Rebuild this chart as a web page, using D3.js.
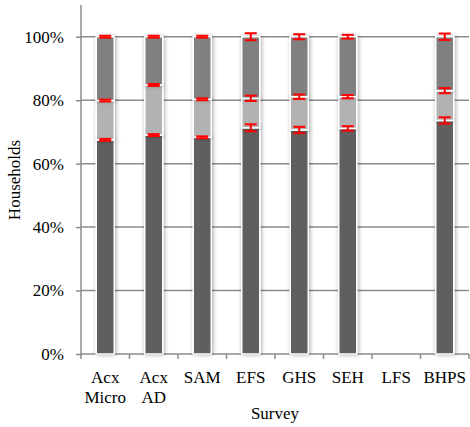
<!DOCTYPE html>
<html>
<head>
<meta charset="utf-8">
<script src="https://cdn.jsdelivr.net/npm/d3@7"></script>
<style>
	body { margin: 0; background: #fff; }
	text { font-family: "Liberation Serif", "Times New Roman", serif; fill: #000; }
</style>
</head>
<body>
<div id="chart"></div>
<script>

// survey categories (two-line labels)
const categories = ["Acx Micro", "Acx AD", "SAM", "EFS", "GHS", "SEH", "LFS", "BHPS"]
const catLines = [["Acx", "Micro"], ["Acx", "AD"], ["SAM"], ["EFS"], ["GHS"], ["SEH"], ["LFS"], ["BHPS"]]

// segment shares in %, bottom to top (null = no data)
const lowerVals  = [67.5, 69.0, 68.3, 71.3, 70.6, 71.1, null, 73.6]
const middleVals = [12.4, 15.8, 12.0,  9.3, 10.5, 10.0, null,  9.4]
const upperVals  = [20.1, 15.2, 19.7, 19.4, 18.9, 18.9, null, 17.0]

// error half-widths in % at the top of each segment
const lowerErr  = [0.3, 0.3, 0.3, 1.1, 1.0, 0.7, null, 1.0]
const middleErr = [0.3, 0.3, 0.3, 0.85, 0.7, 0.5, null, 0.8]
const upperErr  = [0.3, 0.3, 0.3, 1.1, 0.8, 0.6, null, 1.0]

const yTicks = [0, 20, 40, 60, 80, 100]

const width = 470, height = 427
const margin = {top: 5, right: 1, bottom: 73, left: 81}
const plot_w = width - margin.left - margin.right
const plot_h = height - margin.top - margin.bottom

const svg = d3.select("#chart").append("svg")
	.attr("width", width)
	.attr("height", height)

// soft shadow behind the bars
const defs = svg.append("defs")
defs.append("filter")
		.attr("id", "shadow")
		.attr("x", "-50%").attr("y", "-10%")
		.attr("width", "200%").attr("height", "120%")
	.append("feDropShadow")
		.attr("dx", 1).attr("dy", 0)
		.attr("stdDeviation", 2)
		.attr("flood-color", "#000")
		.attr("flood-opacity", 0.35)

const g = svg.append("g")
	.attr("transform", "translate(" + margin.left + "," + margin.top + ")")

const x = d3.scaleBand()
	.domain(categories)
	.range([0, plot_w])

const y = d3.scaleLinear()
	.domain([0, 110])
	.range([plot_h, 0])

// gridlines
g.append("g")
	.selectAll("line")
	.data(yTicks.slice(1))
	.enter()
	.append("line")
		.attr("x1", 0)
		.attr("x2", plot_w)
		.attr("y1", d => y(d))
		.attr("y2", d => y(d))
		.attr("stroke", "#8c8c8c")
		.attr("stroke-width", 1.5)

// y axis
const yAxis = g.append("g")
	.call(d3.axisLeft(y).tickValues(yTicks).tickSize(5).tickPadding(12).tickFormat(d => d + "%"))
yAxis.select(".domain").attr("stroke", "#8c8c8c").attr("stroke-width", 1.5)
	.attr("d", "M0," + plot_h + "V0")
yAxis.selectAll(".tick line").attr("stroke", "#8c8c8c").attr("stroke-width", 1.5)
yAxis.selectAll(".tick text")
	.style("font-family", '"Liberation Serif", serif')
	.style("font-size", "17px")
	.attr("fill", "#000")

// x axis
const xAxis = g.append("g")
	.attr("transform", "translate(0," + plot_h + ")")
xAxis.append("line")
	.attr("x1", 0).attr("x2", plot_w)
	.attr("stroke", "#8c8c8c").attr("stroke-width", 1.5)
xAxis.selectAll(".xtick")
	.data(d3.range(categories.length + 1))
	.enter()
	.append("line")
		.attr("x1", i => i * x.step())
		.attr("x2", i => i * x.step())
		.attr("y1", 0).attr("y2", 5)
		.attr("stroke", "#8c8c8c").attr("stroke-width", 1.5)

const labels = xAxis.selectAll(".xlab")
	.data(categories)
	.enter()
	.append("text")
		.attr("text-anchor", "middle")
		.attr("x", d => x(d) + x.bandwidth() / 2)
		.attr("y", 29)
		.style("font-size", "17px")
labels.each(function(d, i){
	const t = d3.select(this)
	catLines[i].forEach((ln, k) => {
		t.append("tspan")
			.attr("x", x(d) + x.bandwidth() / 2)
			.attr("dy", k === 0 ? 0 : 20)
			.text(ln)
	})
})

// axis titles
g.append("text")
	.attr("text-anchor", "middle")
	.attr("x", plot_w / 2)
	.attr("y", plot_h + 65)
	.style("font-size", "17px")
	.text("Survey")

g.append("text")
	.attr("transform", "rotate(-90)")
	.attr("text-anchor", "middle")
	.attr("x", -175)
	.attr("y", -61)
	.style("font-size", "17px")
	.text("Households")

// stacked bars
const segColors = ["#5f5f5f", "#b2b2b2", "#808080"]
const series = [lowerVals, middleVals, upperVals]
const errs = [lowerErr, middleErr, upperErr]
const barW = 18

const rows = categories.map((c, i) => {
	let base = 0
	return series.map((s, k) => {
		if (s[i] === null) return null
		const seg = {cat: c, y0: base, y1: base + s[i], err: errs[k][i], color: segColors[k]}
		base += s[i]
		return seg
	}).filter(s => s)
})
const segs = rows.flat()

g.append("g")
	.selectAll("rect")
	.data(segs)
	.enter()
	.append("rect")
		.attr("x", d => x(d.cat) + x.bandwidth() / 2 - barW / 2)
		.attr("y", d => y(d.y1))
		.attr("width", barW)
		.attr("height", d => y(d.y0) - y(d.y1))
		.attr("fill", d => d.color)
		.attr("stroke", "#fff")
		.attr("stroke-width", 1.5)
		.attr("filter", "url(#shadow)")

// error bars
const eg = g.append("g")
	.selectAll("g")
	.data(segs)
	.enter()
	.append("g")
		.attr("stroke", "#ff0000")
		.attr("stroke-width", 2)
const capW = 12
eg.append("line")
	.attr("x1", d => x(d.cat) + x.bandwidth() / 2)
	.attr("x2", d => x(d.cat) + x.bandwidth() / 2)
	.attr("y1", d => y(d.y1 - d.err))
	.attr("y2", d => y(d.y1 + d.err))
eg.append("line")
	.attr("x1", d => x(d.cat) + x.bandwidth() / 2 - capW / 2)
	.attr("x2", d => x(d.cat) + x.bandwidth() / 2 + capW / 2)
	.attr("y1", d => y(d.y1 - d.err))
	.attr("y2", d => y(d.y1 - d.err))
eg.append("line")
	.attr("x1", d => x(d.cat) + x.bandwidth() / 2 - capW / 2)
	.attr("x2", d => x(d.cat) + x.bandwidth() / 2 + capW / 2)
	.attr("y1", d => y(d.y1 + d.err))
	.attr("y2", d => y(d.y1 + d.err))

</script>
</body>
</html>
